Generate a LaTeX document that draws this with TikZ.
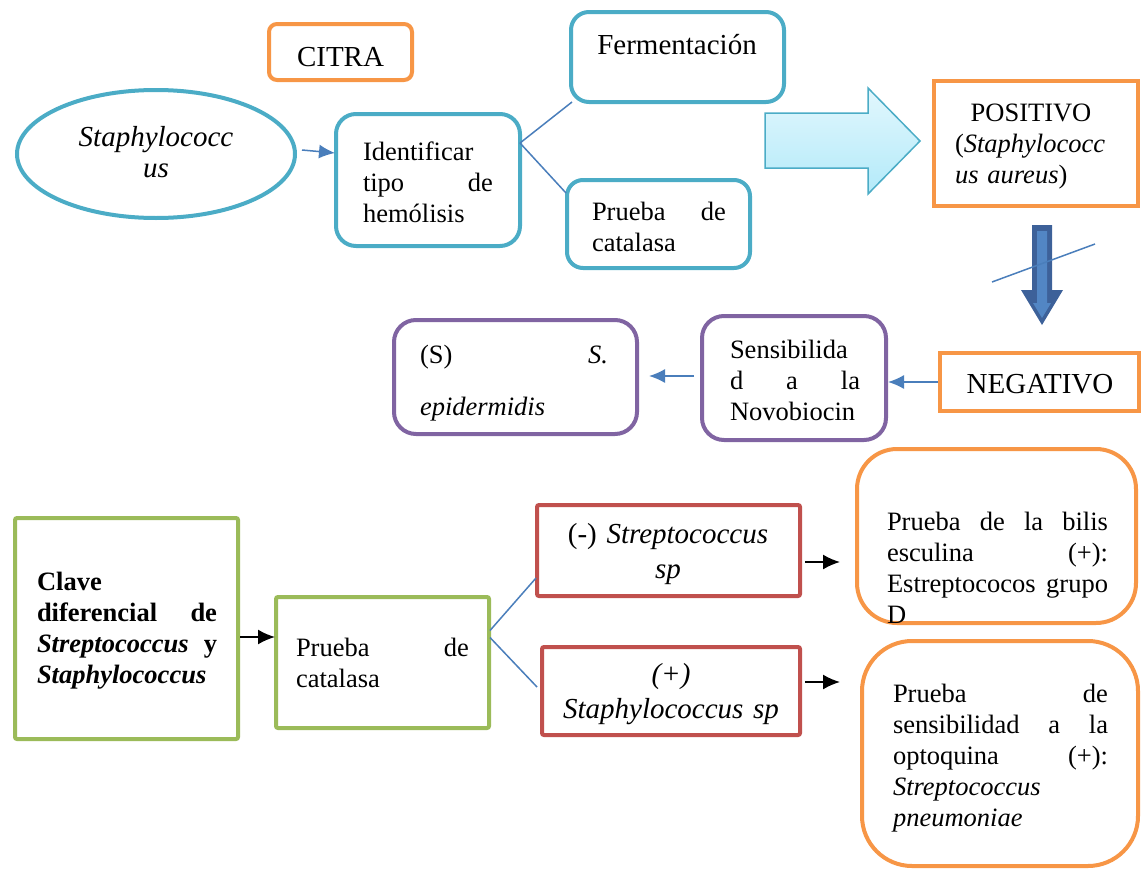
\documentclass[tikz,border=0pt]{standalone}
\usepackage{fontspec}
\setmainfont{Liberation Serif}
\usetikzlibrary{arrows.meta,shapes.geometric}
\newcommand\nf{\fontsize{26.5}{31}\selectfont}
\newcommand\bigf{\fontsize{29}{31}\selectfont}
\definecolor{cteal}{HTML}{4BACC6}
\definecolor{corange}{HTML}{F79646}
\definecolor{cpurple}{HTML}{8064A2}
\definecolor{cgreen}{HTML}{9BBB59}
\definecolor{cred}{HTML}{C0504D}
\definecolor{cblue}{HTML}{4A7EBB}
\definecolor{cdark}{HTML}{3D6199}
\definecolor{cmid}{HTML}{5286C4}
\definecolor{atop}{HTML}{E2F7FD}
\definecolor{abot}{HTML}{B3EAF9}
\tikzset{
  box/.style={draw, line width=4pt, inner sep=0pt, outer sep=0pt, fill=white},
  tealbox/.style={box, draw=cteal},
  orangebox/.style={box, draw=corange},
  purplebox/.style={box, draw=cpurple},
  greenbox/.style={box, draw=cgreen},
  redbox/.style={box, draw=cred},
  txt/.style={inner sep=0pt, outer sep=0pt, font=\nf, align=left},
  ctxt/.style={txt, align=center, anchor=base},
  bluelink/.style={draw=cblue, line width=1.5pt},
  bluearrow/.style={bluelink, -{Latex[length=16pt,width=14pt]}},
  blackarrow/.style={draw=black, line width=1.8pt, -{Latex[length=17pt,width=15pt]}},
}
\begin{document}
\begin{tikzpicture}[x=1pt,y=-1pt]
\useasboundingbox (0,0) rectangle (1143,870);

% upper part: Staphylococcus
\node[orangebox, rounded corners=8pt, minimum width=143pt, minimum height=56pt] (citra) at (340.5,52) {};
\node[ctxt, font=\bigf] (tcitra) at (340.5,66) {CITRA};

\node[tealbox, ellipse, minimum width=278pt, minimum height=128pt] (ell) at (156,154) {};
\node[ctxt, font=\bigf\itshape, text width=200pt] (tell) at (156,146) {Staphylococc\\us};

\node[tealbox, rounded corners=20pt, minimum width=184pt, minimum height=132pt] (ident) at (428,180) {};
\node[txt, anchor=base west, text width=130pt] (tident) at (363,160) {Identificar\\tipo\hfill de\\hemólisis};

\node[tealbox, rounded corners=18pt, minimum width=213pt, minimum height=90pt] (ferm) at (677.5,57) {};
\node[ctxt, font=\bigf] (tferm) at (677,54) {Fermentación};

\node[tealbox, rounded corners=16pt, minimum width=183pt, minimum height=88pt] (cat1) at (658.5,224) {};
\node[txt, anchor=base west, text width=134pt] (tcat1) at (592,220) {Prueba\hfill de\\catalasa};

\draw[bluearrow] ([xshift=7pt,yshift=4pt]ell.east) -- ([xshift=-1pt,yshift=27pt]ident.west);
\draw[bluelink] ([yshift=37pt]ident.east) -- ([xshift=1pt]ferm.south west);
\draw[bluelink] ([yshift=37pt]ident.east) -- ([xshift=-1pt,yshift=31pt]cat1.west);

% block arrow to the positive result
\shade[top color=atop, bottom color=abot, draw=cteal, line width=1.5pt, line join=miter]
  (765,113) -- (868,113) -- (868,88) -- (920,141) -- (868,194) -- (868,168) -- (765,168) -- cycle;

\node[orangebox, minimum width=204pt, minimum height=125pt] (pos) at (1036,143.5) {};
\node[txt, anchor=base west, text width=152pt] (tpos) at (955,121)
  {\makebox[\linewidth][c]{POSITIVO}\\(\textit{Staphylococc}\\\textit{us aureus})};

% crossed-out down arrow
\fill[cdark] (1032,225) -- (1052,225) -- (1052,290) -- (1063,290) -- (1042,325) -- (1021,290) -- (1032,290) -- cycle;
\fill[cmid] (1037,231) -- (1047,231) -- (1047,303) -- (1051,303) -- (1042,318) -- (1033,303) -- (1037,303) -- cycle;
\draw[bluelink] (992,282) -- (1095,244);

\node[orangebox, minimum width=199pt, minimum height=58pt] (neg) at (1039.5,382) {};
\node[ctxt, font=\bigf] (tneg) at (1040,393) {NEGATIVO};

\node[purplebox, rounded corners=22pt, minimum width=184pt, minimum height=124pt] (sens) at (794,378) {};
\node[txt, anchor=base west, text width=130pt] (tsens) at (730,358) {Sensibilida\\d\hfill a\hfill la\\Novobiocin};

\node[purplebox, rounded corners=22pt, minimum width=243pt, minimum height=114pt] (sepi) at (515.5,377) {};
\node[txt, anchor=base west, text width=188pt] (tsepi) at (420,363) {(S)\hfill\textit{S.}\\[21pt]\textit{epidermidis}};

\draw[bluearrow] ([xshift=-2pt]neg.west) -- ([xshift=2pt,yshift=-4pt]sens.east);
\draw[bluearrow] ([xshift=-8pt,yshift=2pt]sens.west) -- ([xshift=12pt,yshift=1pt]sepi.east);

% lower part: Streptococcus / Staphylococcus
\node[greenbox, rounded corners=2pt, minimum width=223pt, minimum height=221pt] (clave) at (126.5,628.5) {};
\node[txt, anchor=base west, text width=180pt, font=\nf\bfseries] (tclave) at (37,590)
  {Clave\\diferencial\hfill de\\\textit{Streptococcus}\hfill y\\\textit{Staphylococcus}};

\node[greenbox, rounded corners=2pt, minimum width=213pt, minimum height=131pt] (cat2) at (382.5,662.5) {};
\node[txt, anchor=base west, text width=173pt] (tcat2) at (296,656) {Prueba\hfill de\\catalasa};

\node[redbox, rounded corners=2pt, minimum width=263pt, minimum height=91pt] (strep) at (668.5,550.5) {};
\node[ctxt, font=\bigf, text width=250pt] (tstrep) at (668,543) {(-) \textit{Streptococcus}\\[4pt]\textit{sp}};

\node[redbox, rounded corners=2pt, minimum width=258pt, minimum height=88pt] (staph) at (671,691) {};
\node[ctxt, font=\bigf\itshape, text width=250pt] (tstaph) at (671,683) {(+)\\[4pt]Staphylococcus sp};

\node[orangebox, rounded corners=40pt, minimum width=279pt, minimum height=174pt] (bilis) at (996.5,536) {};
\node[txt, anchor=base west, text width=221pt] (tbilis) at (887,530)
  {Prueba\hfill de\hfill la\hfill bilis\\esculina\hfill (+):\\Estreptococos\hfill grupo\\D};

\node[orangebox, rounded corners=50pt, minimum width=276pt, minimum height=225pt] (opto) at (1000,753.5) {};
\node[txt, anchor=base west, text width=215pt] (topto) at (893,702)
  {Prueba\hfill de\\sensibilidad\hfill a\hfill la\\optoquina\hfill (+):\\\textit{Streptococcus}\\\textit{pneumoniae}};

\draw[blackarrow] ([xshift=2pt,yshift=-8.5pt]clave.east) -- ([xshift=-1pt,yshift=-8.5pt]clave.east -| cat2.west);
\draw[bluelink] ([xshift=1pt,yshift=32pt]cat2.east) -- ([xshift=-1pt,yshift=-27.5pt]strep.west);
\draw[bluelink] ([xshift=1pt,yshift=25pt]cat2.east) -- ([xshift=-5pt,yshift=4pt]staph.west);
\draw[blackarrow] ([xshift=5pt,yshift=-11.5pt]strep.east) -- ([xshift=-17pt,yshift=-11.5pt]strep.east -| bilis.west);
\draw[blackarrow] ([xshift=5pt,yshift=9pt]staph.east) -- ([xshift=-22pt,yshift=9pt]staph.east -| opto.west);
\end{tikzpicture}
\end{document}
